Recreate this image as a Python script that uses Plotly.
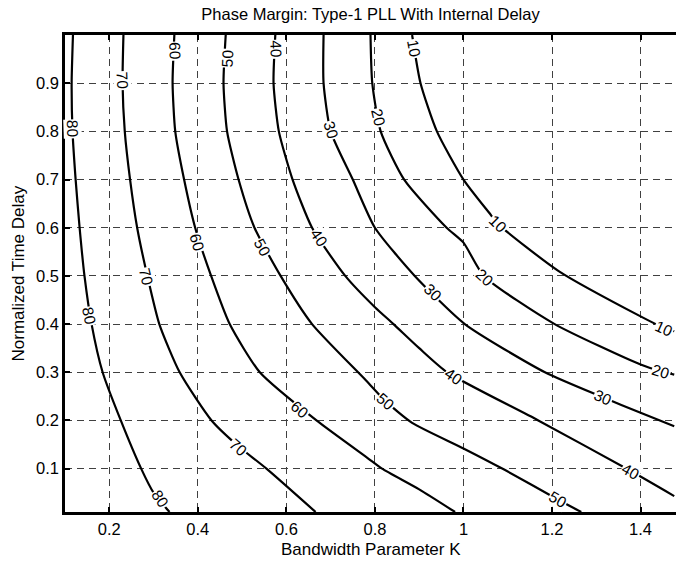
import plotly.graph_objects as go

# ---- data ----
levels = [80, 70, 60, 50, 40, 30, 20, 10]

k80 = [0.118, 0.115, 0.117, 0.124, 0.133, 0.144, 0.160, 0.185, 0.226, 0.272, 0.300, 0.336]
t80 = [1.000, 0.900, 0.800, 0.700, 0.600, 0.500, 0.400, 0.300, 0.200, 0.100, 0.050, 0.010]

k70 = [0.232, 0.230, 0.235, 0.247, 0.263, 0.286, 0.313, 0.359, 0.431, 0.491, 0.555, 0.666]
t70 = [1.000, 0.900, 0.800, 0.700, 0.600, 0.500, 0.400, 0.300, 0.200, 0.147, 0.100, 0.010]

k60 = [0.347, 0.343, 0.349, 0.369, 0.394, 0.430, 0.472, 0.540, 0.668, 0.785, 0.816, 0.900, 0.981]
t60 = [1.000, 0.900, 0.800, 0.700, 0.600, 0.500, 0.400, 0.300, 0.200, 0.121, 0.100, 0.057, 0.010]

k50 = [0.463, 0.458, 0.466, 0.492, 0.528, 0.587, 0.658, 0.780, 0.824, 0.884, 1.000, 1.094, 1.213, 1.266]
t50 = [1.000, 0.900, 0.800, 0.700, 0.600, 0.500, 0.400, 0.283, 0.240, 0.195, 0.142, 0.097, 0.036, 0.010]

k40 = [0.575, 0.571, 0.583, 0.614, 0.658, 0.733, 0.800, 0.842, 0.900, 0.963, 1.169, 1.378, 1.476]
t40 = [1.000, 0.900, 0.800, 0.700, 0.600, 0.500, 0.435, 0.400, 0.350, 0.300, 0.200, 0.095, 0.043]

k30 = [0.684, 0.684, 0.700, 0.750, 0.800, 0.890, 1.003, 1.184, 1.315, 1.400, 1.476]
t30 = [1.000, 0.900, 0.800, 0.700, 0.600, 0.500, 0.400, 0.300, 0.248, 0.216, 0.188]

k20 = [0.790, 0.794, 0.813, 0.866, 0.962, 1.000, 1.046, 1.206, 1.400, 1.446, 1.476]
t20 = [1.000, 0.900, 0.800, 0.700, 0.600, 0.569, 0.500, 0.400, 0.316, 0.302, 0.295]

k10 = [0.884, 0.903, 0.940, 1.000, 1.058, 1.079, 1.215, 1.400, 1.453, 1.476]
t10 = [1.000, 0.900, 0.800, 0.700, 0.631, 0.607, 0.510, 0.416, 0.392, 0.385]

contour_k = [k80, k70, k60, k50, k40, k30, k20, k10]
contour_t = [t80, t70, t60, t50, t40, t30, t20, t10]

# inline contour labels: level, K, delay, text angle
label_level = [80, 80, 80, 70, 70, 70, 60, 60, 60, 50, 50, 50, 50,
               40, 40, 40, 40, 30, 30, 30, 20, 20, 20, 10, 10, 10]
label_k = [0.116, 0.155, 0.314, 0.229, 0.284, 0.491, 0.349, 0.398, 0.630,
           0.466, 0.545, 0.824, 1.213, 0.577, 0.673, 0.978, 1.378,
           0.700, 0.931, 1.315, 0.807, 1.048, 1.446, 0.888, 1.079, 1.453]
label_t = [0.805, 0.416, 0.037, 0.905, 0.497, 0.143, 0.966, 0.569, 0.223,
           0.952, 0.558, 0.240, 0.036, 0.970, 0.579, 0.292, 0.095,
           0.803, 0.465, 0.247, 0.828, 0.497, 0.301, 0.972, 0.607, 0.390]
label_angle = [88, 79, 57, 88, 77, 41, 88, 74, 40,
               -88, 62, 41, 30, 88, 56, 34, 29,
               73, 44, 23, 77, 42, 17, 80, 44, 24]

x_ticks = [0.2, 0.4, 0.6, 0.8, 1.0, 1.2, 1.4]
x_ticktext = ["0.2", "0.4", "0.6", "0.8", "1", "1.2", "1.4"]
y_ticks = [0.1, 0.2, 0.3, 0.4, 0.5, 0.6, 0.7, 0.8, 0.9]
y_ticktext = ["0.1", "0.2", "0.3", "0.4", "0.5", "0.6", "0.7", "0.8", "0.9"]

FONT = "Liberation Sans, Arial, Helvetica, sans-serif"

fig = go.Figure()
for lev, ks, ts in zip(levels, contour_k, contour_t):
    fig.add_trace(go.Scatter(
        x=ks, y=ts, mode="lines", name=str(lev),
        line=dict(color="black", width=2.2, shape="spline", smoothing=0.6),
        showlegend=False, hoverinfo="skip",
    ))

annotations = []
for lev, k, t, a in zip(label_level, label_k, label_t, label_angle):
    annotations.append(dict(
        x=k, y=t, xref="x", yref="y", text=str(lev), showarrow=False,
        textangle=a, font=dict(family=FONT, size=15.5, color="black"),
        bgcolor="white", borderpad=0, xanchor="center", yanchor="middle",
    ))

annotations.append(dict(
    x=0.5, y=0, xref="paper", yref="paper", yshift=-37,
    text="Bandwidth Parameter K", showarrow=False,
    font=dict(family=FONT, size=17, color="black"),
    xanchor="center", yanchor="middle",
))
annotations.append(dict(
    x=-0.0769, y=0.5, xref="paper", yref="paper",
    text="Normalized Time Delay", showarrow=False, textangle=-90,
    font=dict(family=FONT, size=17, color="black"),
    xanchor="center", yanchor="middle",
))

grid_style = dict(showgrid=True, gridcolor="#404040", gridwidth=1, griddash="7px,5px")

fig.update_layout(
    width=676, height=562,
    margin=dict(l=65, r=0, t=35, b=50),
    paper_bgcolor="white", plot_bgcolor="white",
    title=dict(text="Phase Margin: Type-1 PLL With Internal Delay",
               x=0.5, xref="paper", xanchor="center",
               y=1 - 14.5 / 562, yref="container", yanchor="middle",
               font=dict(family=FONT, size=16.5, color="black")),
    annotations=annotations,
    xaxis=dict(range=[0.1, 1.48], tickvals=x_ticks, ticktext=x_ticktext,
               ticks="inside", ticklen=5, tickwidth=1.5, tickcolor="black",
               showline=True, linewidth=2.5, linecolor="black", mirror="ticks",
               zeroline=False, tickfont=dict(family=FONT, size=16.5, color="black"),
               **grid_style),
    yaxis=dict(range=[0.01, 1.0], tickvals=y_ticks, ticktext=y_ticktext,
               ticks="inside", ticklen=5, tickwidth=1.5, tickcolor="black",
               showline=True, linewidth=2.5, linecolor="black", mirror=False,
               zeroline=False, tickfont=dict(family=FONT, size=16.5, color="black"),
               **grid_style),
)

fig.write_html("out.html")
